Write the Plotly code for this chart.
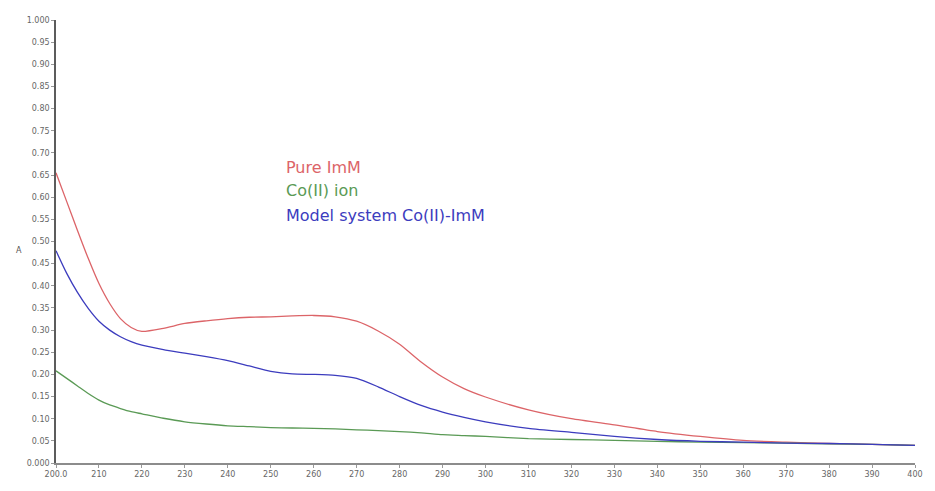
import plotly.graph_objects as go

# Wavelength grid (nm) and absorbance readings for each sample
wavelength = [200, 202.5, 205, 207.5, 210, 212.5, 215, 217.5, 220, 225, 230, 235, 240, 245, 250, 255,
              260, 265, 270, 275, 280, 285, 290, 295, 300, 310, 320, 330, 340, 350, 360, 370, 380, 390, 400]

pure_imm = [0.655, 0.590, 0.525, 0.462, 0.405, 0.360, 0.326, 0.306, 0.297, 0.304, 0.315, 0.321, 0.326, 0.329,
            0.330, 0.332, 0.333, 0.330, 0.320, 0.298, 0.268, 0.228, 0.194, 0.168, 0.149, 0.120, 0.100, 0.086,
            0.071, 0.060, 0.051, 0.047, 0.044, 0.042, 0.040]

co_ion = [0.208, 0.191, 0.174, 0.157, 0.142, 0.131, 0.123, 0.116, 0.111, 0.101, 0.093, 0.088, 0.084, 0.082,
          0.080, 0.079, 0.078, 0.077, 0.075, 0.073, 0.071, 0.068, 0.064, 0.062, 0.060, 0.055, 0.053, 0.051,
          0.049, 0.047, 0.046, 0.045, 0.043, 0.042, 0.040]

model_system = [0.479, 0.428, 0.385, 0.349, 0.320, 0.300, 0.285, 0.274, 0.266, 0.256, 0.248, 0.240, 0.231,
                0.219, 0.207, 0.201, 0.200, 0.198, 0.191, 0.172, 0.150, 0.130, 0.115, 0.103, 0.093, 0.078,
                0.069, 0.060, 0.053, 0.049, 0.047, 0.045, 0.044, 0.042, 0.040]

series_names = ["Pure ImM", "Co(II) ion", "Model system Co(II)-ImM"]
series_colors = ["#dc6468", "#5a9a55", "#3c3cbe"]

x_tickvals = list(range(200, 401, 10))
x_ticktext = ["200.0"] + [str(v) for v in x_tickvals[1:]]
y_tickvals = [round(i * 0.05, 2) for i in range(21)]
y_ticktext = ["0.000"] + ["%.2f" % v for v in y_tickvals[1:-1]] + ["1.000"]

fig = go.Figure()
for name, ys, col in zip(series_names, [pure_imm, co_ion, model_system], series_colors):
    fig.add_trace(go.Scatter(x=wavelength, y=ys, mode="lines", name=name,
                             line=dict(color=col, width=1.3, shape="spline", smoothing=0.6)))

# In-plot legend text
legend_y = [0.668, 0.614, 0.558]
for name, col, yy in zip(series_names, series_colors, legend_y):
    fig.add_annotation(x=0.266, y=yy, xref="paper", yref="paper",
                       text=name, showarrow=False, xanchor="left", yanchor="middle",
                       font=dict(family="DejaVu Sans", size=16, color=col))

fig.add_annotation(x=-0.049, y=0.48, xref="paper", yref="paper", text="A", showarrow=False,
                   font=dict(family="DejaVu Sans", size=8, color="#555555"))

fig.update_layout(
    width=935, height=491,
    margin=dict(l=56, r=12, t=20, b=18),
    paper_bgcolor="white", plot_bgcolor="white",
    showlegend=False,
    font=dict(family="DejaVu Sans", size=8, color="#666666"),
    xaxis=dict(range=[200, 400], tickvals=x_tickvals, ticktext=x_ticktext,
               showgrid=False, zeroline=False, showline=True, linecolor="#8c8c8c", linewidth=1.6,
               ticks="outside", ticklen=3, tickcolor="#999999"),
    yaxis=dict(range=[0, 1.0], tickvals=y_tickvals, ticktext=y_ticktext,
               showgrid=False, zeroline=False, showline=True, linecolor="#5c5c5c", linewidth=1.6,
               ticks="outside", ticklen=3, tickcolor="#999999"),
)

fig.write_html("out.html")
